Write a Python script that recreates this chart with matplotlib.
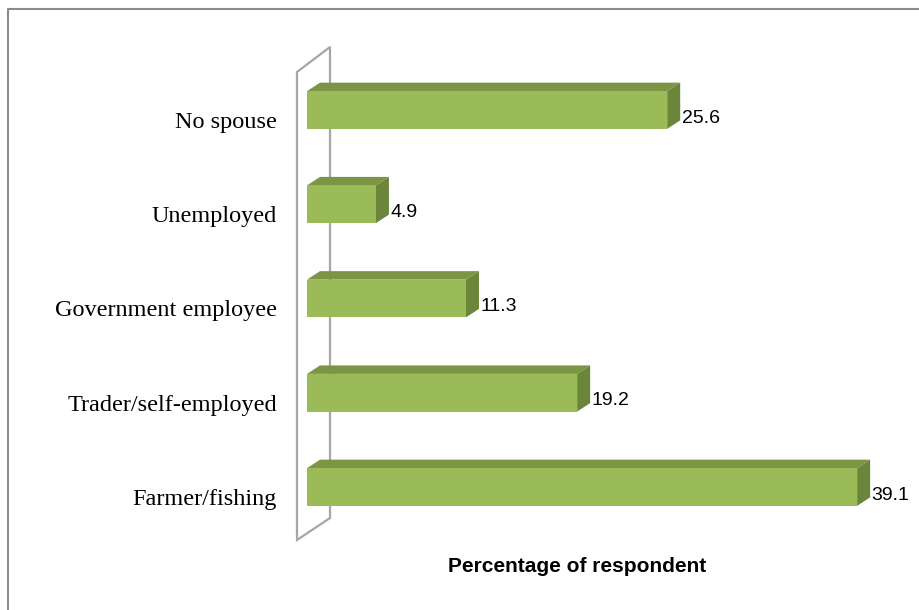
#!/usr/bin/env python
# horizontal "3-D" bar chart: occupation of spouse
import numpy as np
import matplotlib
matplotlib.use('agg')
import matplotlib.pyplot as plt
from matplotlib.patches import Polygon
from matplotlib.lines import Line2D

##### Data
categories = ['Farmer/fishing', 'Trader/self-employed', 'Government employee',
              'Unemployed', 'No spouse']
percent = [39.1, 19.2, 11.3, 4.9, 25.6]
xlabel = 'Percentage of respondent'

##### Style
front_col = '#9bbb59'
top_col = '#7b9545'
side_col = '#6b853a'
wall_col = '#a6a6a6'
px_per_x = 14.07      # pixels per percent unit
px_per_y = 94.25      # pixels per category
bar_half = 0.2        # half height of the bar front face
dx = 13 / px_per_x    # depth offset of bars
dy = 8.5 / px_per_y

fig = plt.figure(figsize=(9.2, 6.1), dpi=100)
ax = fig.add_axes([0, 0, 1, 1])
ax.set_xlim(-307 / px_per_x, (920 - 307) / px_per_x)
ax.set_ylim((487 - 610) / px_per_y, 487 / px_per_y)
ax.axis('off')

# back wall (thin parallelogram at x=0)
wx0, wx1 = -10 / px_per_x, 23 / px_per_x
wall = Polygon([(wx0, -53 / px_per_y), (wx0, 415 / px_per_y),
                (wx1, 440 / px_per_y), (wx1, -31 / px_per_y)],
               closed=True, facecolor='none', edgecolor=wall_col, lw=1.6)
ax.add_patch(wall)

for i, (cat, val) in enumerate(zip(categories, percent)):
    y0, y1 = i - bar_half, i + bar_half
    # top face
    ax.add_patch(Polygon([(0, y1), (val, y1), (val + dx, y1 + dy), (dx, y1 + dy)],
                         closed=True, facecolor=top_col, edgecolor='none'))
    # right face
    ax.add_patch(Polygon([(val, y0), (val + dx, y0 + dy), (val + dx, y1 + dy), (val, y1)],
                         closed=True, facecolor=side_col, edgecolor='none'))
    # front face
    ax.barh(i, val, height=2 * bar_half, left=0, color=front_col, edgecolor='none')
    ax.text(val + dx + 0.1, i - 0.085, '%.1f' % val, ha='left', va='center',
            fontsize=14, family='Liberation Sans', color='black')
    ax.text(-30 / px_per_x, i - 0.13, cat, ha='right', va='center',
            fontsize=17.5, family='Liberation Serif', color='black')

fig.text(577 / 920, 1 - 566 / 610, xlabel, ha='center', va='center',
         fontsize=15, fontweight='bold', family='Liberation Sans')

# outer frame (only top and left edges visible in crop)
fig.add_artist(Line2D([8 / 920, 8 / 920, 1], [0, 1 - 9 / 610, 1 - 9 / 610],
                      transform=fig.transFigure, color='#8c8c8c', lw=1.5))

plt.savefig('out.png', dpi=100)
